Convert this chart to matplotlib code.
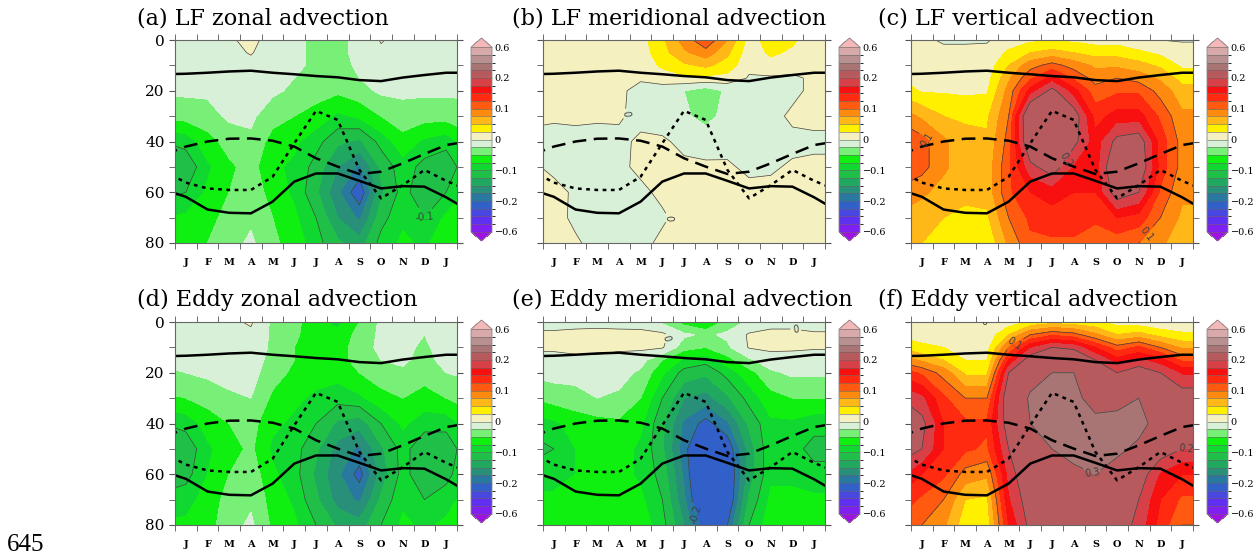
"""Seasonal cycle of advection terms (LF / eddy; zonal, meridional, vertical) vs depth."""

import matplotlib
matplotlib.use("Agg")
import matplotlib.pyplot as plt
import numpy as np
from matplotlib.colors import ListedColormap, BoundaryNorm

# month axis: 0 = Dec (prev), 1..13 = Jan..Jan, 14 = Feb; axis shows 0.5..13.5
months = np.arange(0, 15)
depths = np.array([0, 5, 10, 15, 20, 30, 40, 50, 60, 70, 80])
month_labels = ["J", "F", "M", "A", "M", "J", "J", "A", "S", "O", "N", "D", "J"]

levels = [-0.6, -0.5, -0.4, -0.3, -0.2, -0.175, -0.15, -0.125, -0.1, -0.075, -0.05, -0.025, 0,
          0.025, 0.05, 0.075, 0.1, 0.125, 0.15, 0.175, 0.2, 0.3, 0.4, 0.5, 0.6]
band_colors = ["#8020f0", "#6030f0", "#4848e0", "#3060c8", "#2878a0", "#289078",
               "#20a860", "#20c048", "#10d830", "#10f010", "#78f078", "#d8f0d8",
               "#f4f0c0", "#fff000", "#ffb818", "#ff8a10", "#ff5a10", "#ff2a10",
               "#f81010", "#d84048", "#b65a5e", "#a87474", "#b89090", "#d7a9a9"]
under_color = "#a010e0"
over_color = "#f4b8b8"
cbar_ticks = [-0.6, -0.2, -0.1, 0, 0.1, 0.2, 0.6]
cbar_ticklabels = ["\u22120.6", "\u22120.2", "\u22120.1", "0", "0.1", "0.2", "0.6"]
line_levels = [-0.3, -0.2, -0.1, 0, 0.1, 0.2, 0.3]

# overlaid depth curves (m), one value per month node
top_solid = [13.5, 13.3, 12.9, 12.4, 12.1, 12.9, 13.5, 14.2, 14.7, 15.8, 16.2, 14.8, 13.8, 12.9, 12.9]
dashed = [45.2, 42.0, 40.0, 38.9, 38.8, 39.7, 42.0, 46.6, 49.9, 52.8, 51.9, 48.6, 44.9, 41.4, 40.0]
dotted = [51.6, 56.2, 58.5, 59.1, 59.1, 53.9, 40.7, 27.9, 31.5, 51.2, 62.4, 57.2, 51.2, 55.5, 59.0]
bottom_solid = [59.0, 61.8, 66.8, 68.1, 68.3, 63.7, 55.8, 52.6, 52.6, 55.5, 58.5, 57.6, 57.8, 62.0, 67.0]

# fields: one list per month (values at depths 0,5,10,15,20,30,40,50,60,70,80)
lf_zonal = np.array([
    [-0.01, -0.01, -0.01, -0.015, -0.02, -0.045, -0.10, -0.13, -0.11, -0.075, -0.065],
    [-0.01, -0.01, -0.01, -0.015, -0.02, -0.04, -0.09, -0.12, -0.10, -0.07, -0.06],
    [-0.01, -0.01, -0.012, -0.015, -0.02, -0.035, -0.06, -0.08, -0.07, -0.06, -0.05],
    [-0.005, -0.008, -0.01, -0.012, -0.015, -0.02, -0.04, -0.055, -0.05, -0.04, -0.035],
    [0.01, 0.002, -0.008, -0.012, -0.015, -0.02, -0.03, -0.04, -0.035, -0.03, -0.02],
    [-0.015, -0.015, -0.015, -0.018, -0.02, -0.04, -0.06, -0.07, -0.06, -0.05, -0.045],
    [-0.02, -0.02, -0.02, -0.025, -0.03, -0.05, -0.07, -0.08, -0.08, -0.07, -0.06],
    [-0.03, -0.03, -0.03, -0.035, -0.04, -0.06, -0.09, -0.11, -0.12, -0.10, -0.09],
    [-0.03, -0.03, -0.035, -0.04, -0.045, -0.08, -0.12, -0.15, -0.17, -0.15, -0.12],
    [-0.02, -0.02, -0.02, -0.025, -0.035, -0.07, -0.13, -0.18, -0.22, -0.18, -0.14],
    [0.002, -0.005, -0.01, -0.015, -0.02, -0.05, -0.09, -0.12, -0.13, -0.11, -0.09],
    [-0.01, -0.01, -0.01, -0.015, -0.02, -0.035, -0.06, -0.085, -0.09, -0.08, -0.07],
    [-0.01, -0.012, -0.015, -0.018, -0.02, -0.04, -0.08, -0.11, -0.12, -0.10, -0.08],
    [-0.01, -0.01, -0.01, -0.015, -0.02, -0.04, -0.09, -0.12, -0.10, -0.07, -0.06],
    [-0.01, -0.01, -0.012, -0.015, -0.02, -0.035, -0.06, -0.08, -0.07, -0.06, -0.05],
]).T

lf_merid = np.array([
    [0.005, 0.005, 0.005, 0.002, 0.004, 0.003, -0.004, 0.002, 0.005, 0.005, 0.005],
    [0.005, 0.005, 0.005, 0.003, 0.005, 0.002, -0.005, -0.003, 0.004, 0.005, 0.004],
    [0.005, 0.005, 0.005, 0.004, 0.005, 0.003, -0.005, -0.005, -0.002, -0.003, 0.002],
    [0.005, 0.005, 0.005, 0.004, 0.005, 0.002, -0.005, -0.005, -0.005, -0.005, -0.005],
    [0.006, 0.005, 0.005, 0.003, 0.003, 0.002, -0.004, -0.003, -0.005, -0.005, -0.005],
    [0.015, 0.012, 0.008, 0.002, -0.005, -0.005, 0.003, 0.003, -0.003, -0.004, -0.004],
    [0.045, 0.04, 0.03, 0.01, -0.01, -0.01, 0.003, 0.005, 0.003, -0.002, 0.003],
    [0.085, 0.07, 0.045, 0.02, -0.025, -0.02, -0.005, 0.004, 0.005, 0.005, 0.005],
    [0.12, 0.09, 0.055, 0.02, -0.04, -0.035, -0.008, 0.003, 0.005, 0.005, 0.005],
    [0.075, 0.055, 0.04, 0.015, -0.02, -0.015, -0.005, 0.002, 0.005, 0.005, 0.005],
    [0.015, 0.01, 0.005, -0.002, -0.005, -0.005, -0.005, -0.003, 0.004, 0.005, 0.005],
    [0.035, 0.03, 0.015, -0.003, -0.005, -0.005, -0.005, -0.002, 0.004, 0.005, 0.005],
    [0.03, 0.02, 0.005, -0.002, -0.004, 0.003, -0.004, 0.002, 0.004, 0.005, 0.005],
    [0.005, 0.005, 0.005, 0.002, 0.004, 0.004, -0.003, 0.003, 0.005, 0.005, 0.005],
    [0.005, 0.005, 0.005, 0.002, 0.004, 0.004, -0.003, 0.003, 0.005, 0.005, 0.005],
]).T

lf_vert = np.array([
    [0.01, 0.012, 0.015, 0.025, 0.04, 0.09, 0.13, 0.13, 0.09, 0.07, 0.06],
    [0.005, 0.008, 0.01, 0.015, 0.022, 0.07, 0.11, 0.11, 0.08, 0.06, 0.05],
    [-0.003, 0.006, 0.01, 0.015, 0.022, 0.05, 0.08, 0.08, 0.065, 0.05, 0.04],
    [-0.003, 0.006, 0.01, 0.015, 0.02, 0.045, 0.06, 0.06, 0.055, 0.045, 0.035],
    [-0.002, 0.006, 0.01, 0.015, 0.022, 0.045, 0.055, 0.06, 0.06, 0.045, 0.03],
    [0.01, 0.03, 0.05, 0.07, 0.085, 0.10, 0.11, 0.12, 0.12, 0.10, 0.08],
    [0.02, 0.05, 0.09, 0.12, 0.16, 0.25, 0.24, 0.19, 0.15, 0.13, 0.12],
    [0.02, 0.06, 0.11, 0.16, 0.21, 0.27, 0.27, 0.22, 0.16, 0.14, 0.12],
    [0.02, 0.05, 0.09, 0.12, 0.16, 0.22, 0.21, 0.17, 0.15, 0.14, 0.12],
    [0.015, 0.04, 0.07, 0.09, 0.11, 0.14, 0.16, 0.16, 0.15, 0.13, 0.11],
    [0.015, 0.04, 0.07, 0.10, 0.12, 0.16, 0.21, 0.24, 0.22, 0.15, 0.11],
    [0.005, 0.03, 0.06, 0.09, 0.12, 0.16, 0.22, 0.23, 0.20, 0.14, 0.10],
    [0.0, 0.02, 0.045, 0.07, 0.09, 0.12, 0.14, 0.14, 0.12, 0.10, 0.08],
    [-0.002, 0.01, 0.02, 0.04, 0.06, 0.08, 0.09, 0.09, 0.08, 0.07, 0.06],
    [-0.002, 0.01, 0.02, 0.04, 0.06, 0.08, 0.09, 0.09, 0.08, 0.07, 0.06],
]).T

eddy_zonal = np.array([
    [-0.01, -0.012, -0.015, -0.02, -0.03, -0.055, -0.10, -0.13, -0.12, -0.09, -0.07],
    [-0.01, -0.01, -0.012, -0.015, -0.025, -0.05, -0.09, -0.12, -0.11, -0.085, -0.07],
    [-0.01, -0.01, -0.01, -0.012, -0.02, -0.04, -0.065, -0.08, -0.075, -0.065, -0.06],
    [-0.005, -0.008, -0.01, -0.01, -0.015, -0.03, -0.05, -0.06, -0.05, -0.04, -0.035],
    [0.003, -0.005, -0.008, -0.01, -0.015, -0.025, -0.04, -0.045, -0.035, -0.03, -0.02],
    [-0.03, -0.03, -0.03, -0.035, -0.04, -0.055, -0.07, -0.08, -0.07, -0.06, -0.055],
    [-0.04, -0.045, -0.05, -0.05, -0.055, -0.07, -0.08, -0.09, -0.09, -0.08, -0.07],
    [-0.07, -0.065, -0.06, -0.06, -0.065, -0.08, -0.10, -0.12, -0.13, -0.12, -0.10],
    [-0.08, -0.07, -0.065, -0.06, -0.065, -0.09, -0.13, -0.16, -0.17, -0.16, -0.13],
    [-0.05, -0.04, -0.035, -0.04, -0.05, -0.08, -0.14, -0.18, -0.21, -0.18, -0.14],
    [-0.02, -0.02, -0.02, -0.025, -0.035, -0.06, -0.10, -0.13, -0.14, -0.12, -0.10],
    [-0.015, -0.015, -0.018, -0.02, -0.03, -0.05, -0.07, -0.09, -0.09, -0.08, -0.07],
    [-0.02, -0.025, -0.03, -0.035, -0.04, -0.06, -0.09, -0.12, -0.12, -0.10, -0.08],
    [-0.01, -0.01, -0.012, -0.015, -0.025, -0.05, -0.09, -0.12, -0.11, -0.085, -0.07],
    [-0.01, -0.01, -0.01, -0.012, -0.02, -0.04, -0.065, -0.08, -0.075, -0.065, -0.06],
]).T

eddy_merid = np.array([
    [-0.01, 0.005, 0.005, -0.01, -0.02, -0.05, -0.09, -0.11, -0.09, -0.07, -0.06],
    [-0.01, 0.005, 0.005, -0.01, -0.015, -0.04, -0.08, -0.10, -0.085, -0.07, -0.06],
    [-0.01, 0.008, 0.006, -0.005, -0.015, -0.035, -0.065, -0.075, -0.075, -0.07, -0.06],
    [-0.01, 0.01, 0.006, -0.005, -0.01, -0.025, -0.06, -0.07, -0.07, -0.065, -0.06],
    [-0.01, 0.008, 0.004, -0.008, -0.015, -0.03, -0.055, -0.065, -0.065, -0.06, -0.055],
    [-0.01, 0.007, 0.005, -0.015, -0.03, -0.05, -0.07, -0.08, -0.08, -0.07, -0.06],
    [-0.03, 0.006, 0.003, -0.05, -0.07, -0.10, -0.12, -0.12, -0.11, -0.10, -0.09],
    [-0.06, -0.02, -0.04, -0.08, -0.11, -0.15, -0.18, -0.19, -0.18, -0.17, -0.15],
    [-0.08, -0.03, -0.05, -0.09, -0.12, -0.16, -0.21, -0.25, -0.26, -0.25, -0.22],
    [-0.04, -0.02, -0.03, -0.06, -0.09, -0.13, -0.18, -0.22, -0.23, -0.23, -0.20],
    [-0.02, 0.003, 0.002, -0.03, -0.06, -0.09, -0.12, -0.14, -0.14, -0.12, -0.10],
    [-0.01, 0.008, 0.005, -0.01, -0.03, -0.06, -0.08, -0.08, -0.08, -0.07, -0.06],
    [-0.01, 0.008, 0.004, -0.01, -0.02, -0.05, -0.08, -0.09, -0.08, -0.07, -0.06],
    [-0.01, 0.003, 0.002, -0.01, -0.02, -0.05, -0.09, -0.11, -0.09, -0.07, -0.06],
    [-0.01, 0.003, 0.002, -0.01, -0.02, -0.05, -0.09, -0.11, -0.09, -0.07, -0.06],
]).T

eddy_vert = np.array([
    [0.01, 0.02, 0.045, 0.09, 0.14, 0.20, 0.22, 0.22, 0.18, 0.14, 0.12],
    [0.005, 0.015, 0.03, 0.07, 0.12, 0.18, 0.21, 0.20, 0.15, 0.12, 0.10],
    [0.003, 0.012, 0.025, 0.05, 0.09, 0.13, 0.15, 0.15, 0.13, 0.10, 0.08],
    [0.0, 0.008, 0.015, 0.025, 0.045, 0.10, 0.13, 0.13, 0.09, 0.05, 0.035],
    [0.0, 0.008, 0.015, 0.025, 0.045, 0.10, 0.13, 0.12, 0.08, 0.045, 0.035],
    [0.01, 0.05, 0.10, 0.15, 0.20, 0.23, 0.22, 0.20, 0.18, 0.17, 0.15],
    [0.03, 0.10, 0.17, 0.22, 0.27, 0.31, 0.30, 0.26, 0.24, 0.22, 0.21],
    [0.04, 0.12, 0.20, 0.25, 0.30, 0.35, 0.35, 0.30, 0.26, 0.24, 0.22],
    [0.035, 0.11, 0.19, 0.25, 0.30, 0.32, 0.34, 0.33, 0.28, 0.25, 0.23],
    [0.03, 0.08, 0.15, 0.20, 0.23, 0.27, 0.32, 0.34, 0.30, 0.26, 0.23],
    [0.015, 0.05, 0.11, 0.16, 0.20, 0.27, 0.33, 0.32, 0.26, 0.24, 0.22],
    [0.01, 0.06, 0.13, 0.18, 0.22, 0.30, 0.33, 0.28, 0.22, 0.20, 0.19],
    [0.005, 0.04, 0.10, 0.16, 0.20, 0.25, 0.26, 0.22, 0.17, 0.15, 0.14],
    [0.005, 0.03, 0.07, 0.12, 0.17, 0.22, 0.23, 0.20, 0.15, 0.12, 0.10],
    [0.005, 0.03, 0.07, 0.12, 0.17, 0.22, 0.23, 0.20, 0.15, 0.12, 0.10],
]).T

panels = [
    ("(a) LF zonal advection", lf_zonal),
    ("(b) LF meridional advection", lf_merid),
    ("(c) LF vertical advection", lf_vert),
    ("(d) Eddy zonal advection", eddy_zonal),
    ("(e) Eddy meridional advection", eddy_merid),
    ("(f) Eddy vertical advection", eddy_vert),
]

# where the few contour labels sit (month, depth)
label_spots = [
    [(11.4, 76)],
    [(4.2, 29), (7.0, 68)],
    [(1.5, 37), (7.2, 45), (11.6, 78)],
    [],
    [(7.0, 8), (12.1, 6), (8.3, 74)],
    [(3.9, 2), (5.4, 10), (8.7, 62), (13.2, 49)],
]

W, H = 1254, 555
col_left = [175, 543, 911]
title_left = [137, 512, 878]
row_top = [40, 322]
ax_w, ax_h = 282, 203
serif = "DejaVu Serif"

fig = plt.figure(figsize=(W / 100, H / 100), dpi=100)
X, Y = np.meshgrid(months, depths)

for i, (title, field) in enumerate(panels):
    r, c = divmod(i, 3)
    left = col_left[c] / W
    bottom = 1 - (row_top[r] + ax_h) / H
    ax = fig.add_axes([left, bottom, ax_w / W, ax_h / H])

    # own cmap/norm per panel so one colorbar's ticks are not reset by the next
    cmap = ListedColormap(band_colors)
    cmap.set_under(under_color)
    cmap.set_over(over_color)
    norm = BoundaryNorm(levels, cmap.N)

    cf = ax.contourf(X, Y, field, levels=levels, cmap=cmap, norm=norm, extend="both")
    cs = ax.contour(X, Y, field, levels=line_levels, colors="#404040",
                    linewidths=0.5, linestyles="solid")
    if label_spots[i]:
        ax.clabel(cs, fmt="%g", fontsize=7, inline=True, inline_spacing=2,
                  manual=label_spots[i])

    ax.plot(months, top_solid, color="black", lw=1.8)
    ax.plot(months, bottom_solid, color="black", lw=1.8)
    ax.plot(months, dashed, color="black", lw=1.8, dashes=(5.5, 3))
    ax.plot(months, dotted, color="black", lw=1.8, dashes=(1.5, 1.8))

    ax.set_xlim(0.5, 13.5)
    ax.set_ylim(80, 0)
    ax.set_xticks(np.arange(1, 14))
    ax.set_xticklabels(month_labels, fontsize=7, fontweight="bold", family=serif)
    ax.set_xticks(np.arange(0.5, 14), minor=True)
    ax.tick_params(axis="x", which="major", length=0, pad=11)
    ax.tick_params(axis="x", which="minor", length=4, direction="out",
                   top=True, bottom=True, color="#555555")
    ax.set_yticks([0, 20, 40, 60, 80])
    ax.set_yticks(np.arange(0, 81, 10), minor=True)
    ax.tick_params(axis="y", which="both", length=4, direction="out",
                   left=True, right=True, color="#555555")
    if c == 0:
        ax.set_yticklabels(["0", "20", "40", "60", "80"], fontsize=11, family=serif)
    else:
        ax.tick_params(axis="y", labelleft=False)
    for sp in ax.spines.values():
        sp.set_color("#666666")
        sp.set_linewidth(0.8)

    fig.text(title_left[c] / W, 1 - (row_top[r] - 22) / H, title, fontsize=16,
             family=serif, ha="left", va="center")

    cax = fig.add_axes([(col_left[c] + ax_w + 14) / W, bottom + 2 / H, 21 / W, ax_h / H])
    cb = fig.colorbar(cf, cax=cax, drawedges=True)
    cb.set_ticks(cbar_ticks, labels=cbar_ticklabels)
    cb.ax.tick_params(length=0, pad=2, labelsize=7)
    for lab in cb.ax.get_yticklabels():
        lab.set_family(serif)
    cb.dividers.set_color("#666666")
    cb.dividers.set_linewidth(0.4)
    cb.outline.set_edgecolor("#888888")
    cb.outline.set_linewidth(0.6)

fig.text(7 / W, 1 - 545 / H, "645", fontsize=18, family="Liberation Serif",
         ha="left", va="center")

fig.savefig("out.png", dpi=100)
